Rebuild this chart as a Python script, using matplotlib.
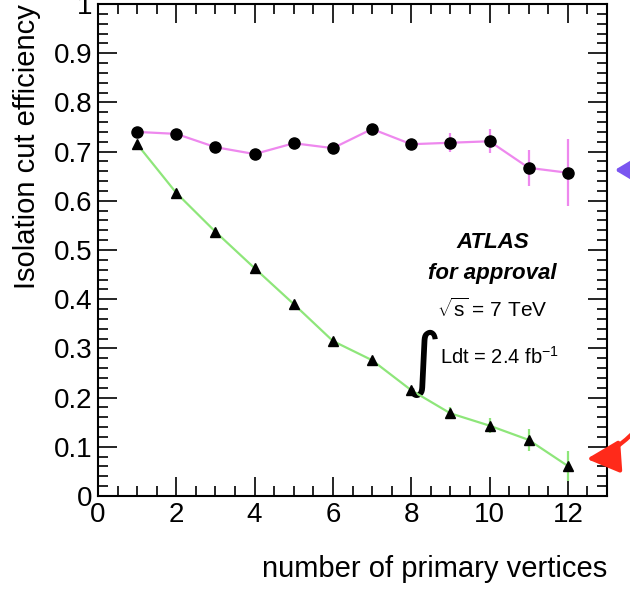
import matplotlib
matplotlib.use("Agg")
import matplotlib.pyplot as plt
from matplotlib.ticker import MultipleLocator, FuncFormatter
from matplotlib.patches import FancyArrowPatch

plt.rcParams['font.family'] = ['Liberation Sans', 'DejaVu Sans']
plt.rcParams['mathtext.fontset'] = 'custom'
plt.rcParams['mathtext.rm'] = 'Liberation Sans'

n_vertices = [1, 2, 3, 4, 5, 6, 7, 8, 9, 10, 11, 12]
# upper (magenta) curve
eff_top = [0.740, 0.736, 0.709, 0.695, 0.717, 0.707, 0.746, 0.715, 0.718, 0.721, 0.667, 0.657]
err_top = [0.008, 0.004, 0.004, 0.005, 0.005, 0.006, 0.008, 0.009, 0.019, 0.024, 0.036, 0.068]
# lower (green) curve
eff_bot = [0.715, 0.616, 0.537, 0.463, 0.390, 0.315, 0.276, 0.215, 0.168, 0.143, 0.114, 0.061]
err_bot = [0.004, 0.003, 0.003, 0.003, 0.004, 0.004, 0.005, 0.007, 0.012, 0.015, 0.023, 0.030]

fig = plt.figure(figsize=(6.3, 5.89), dpi=100)
ax = fig.add_axes([98 / 630, 93 / 589, 509 / 630, 492 / 589])

ax.errorbar(n_vertices, eff_top, yerr=err_top, color="#ee88ee", lw=1.6,
            marker="o", ms=8, mfc="black", mec="black", capsize=0, zorder=3)
ax.errorbar(n_vertices, eff_bot, yerr=err_bot, color="#8ee67a", lw=1.6,
            marker="^", ms=7, mfc="black", mec="black", capsize=0, zorder=3)

ax.set_xlim(0, 13)
ax.set_ylim(0, 1)
ax.xaxis.set_major_locator(MultipleLocator(2))
ax.xaxis.set_minor_locator(MultipleLocator(0.5))
ax.yaxis.set_major_locator(MultipleLocator(0.1))
ax.yaxis.set_minor_locator(MultipleLocator(0.02))
ax.yaxis.set_major_formatter(FuncFormatter(lambda v, p: "%g" % round(v, 2)))
ax.tick_params(which="both", direction="in", top=True, right=True, width=1.2)
ax.tick_params(which="major", length=14, labelsize=20)
ax.tick_params(which="minor", length=7)
ax.tick_params(axis="x", pad=4)
ax.tick_params(axis="y", pad=4)
for s in ax.spines.values():
    s.set_linewidth(1.5)

ax.set_xlabel("number of primary vertices", fontsize=21, ha="right", x=1.0, labelpad=20)
ax.set_ylabel("Isolation cut efficiency", fontsize=21, ha="right", y=1.0, labelpad=9)

ax.text(493, 589 - 242, "ATLAS", transform=None, fontsize=16, fontweight="bold",
        fontstyle="italic", ha="center", va="center")
ax.text(492, 589 - 273, "for approval", transform=None, fontsize=16, fontweight="bold",
        fontstyle="italic", ha="center", va="center")
ax.text(492, 589 - 309, r"$\sqrt{\mathrm{s}}$ = 7 TeV", transform=None, fontsize=15,
        ha="center", va="center")
ax.text(421, 589 - 364, r"$\int$", transform=None, fontsize=36,
        math_fontfamily="dejavusans", ha="center", va="center")
ax.text(440, 589 - 357, r"Ldt = 2.4 fb$^{-1}$", transform=None, fontsize=14.5,
        ha="left", va="center")

# hand-drawn style arrows in the margin
purple = FancyArrowPatch((660, 589 - 170), (612, 589 - 170), transform=None,
                         arrowstyle="-|>,head_length=20,head_width=12",
                         color="#7a55f0", lw=3, clip_on=False)
fig.patches.append(purple)
red = FancyArrowPatch((634, 589 - 432), (584, 589 - 459), transform=None,
                      connectionstyle="angle3,angleA=-135,angleB=0",
                      arrowstyle="-|>,head_length=20,head_width=10",
                      color="#ff2a1a", lw=3, clip_on=False)
fig.patches.append(red)

fig.savefig("out.png", dpi=100)
